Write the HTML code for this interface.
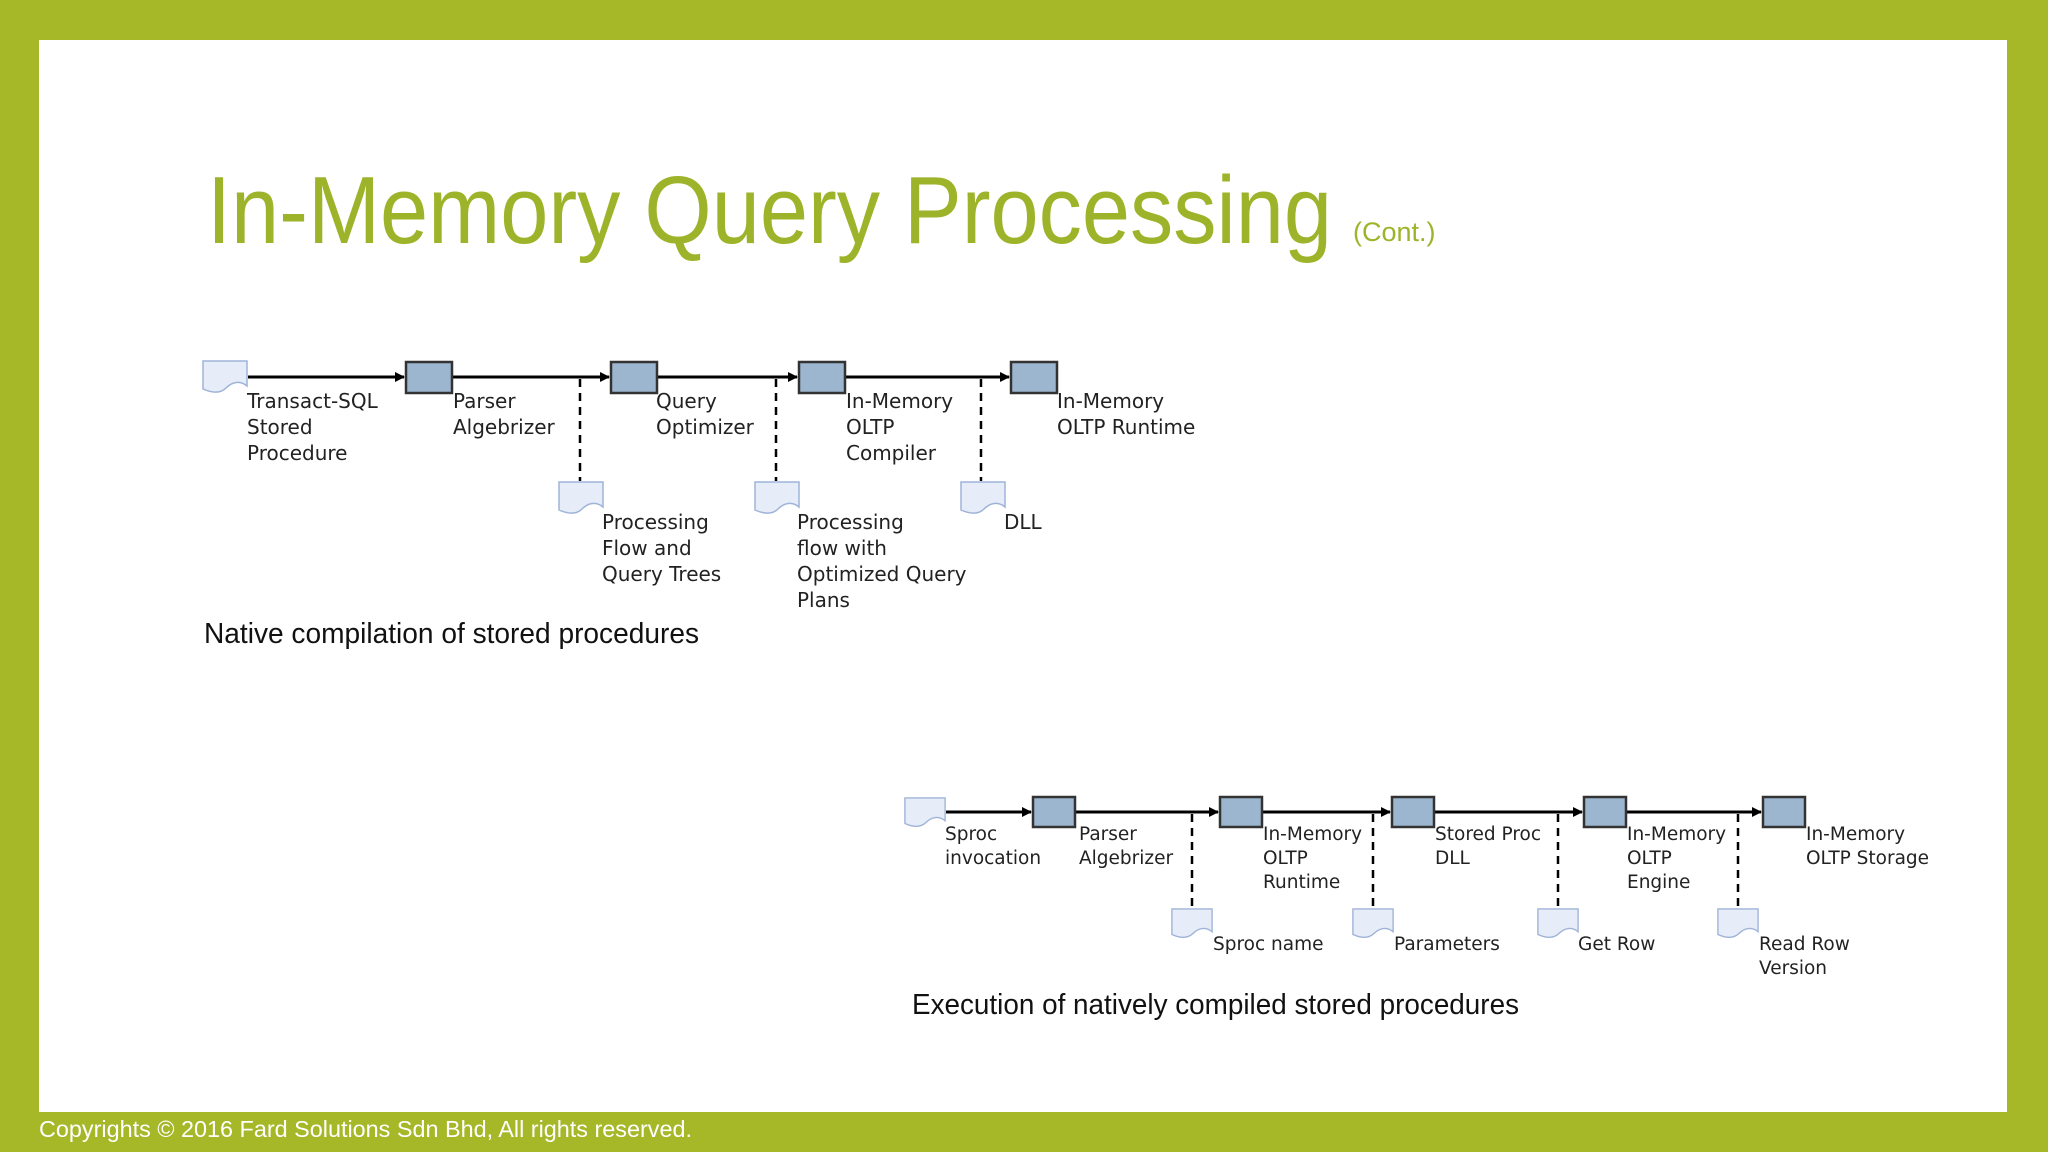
<!DOCTYPE html>
<html><head><meta charset="utf-8"><style>
html,body{margin:0;padding:0;width:2048px;height:1152px;overflow:hidden;background:#a6b728}
svg{display:block}
.l{font-family:"DejaVu Sans","Liberation Sans",sans-serif;font-size:20px;fill:#222}
.m{font-family:"DejaVu Sans","Liberation Sans",sans-serif;font-size:18.5px;fill:#222}
.c{font-family:"Liberation Sans",sans-serif;font-size:29px;fill:#111}
</style></head><body>
<svg width="2048" height="1152" viewBox="0 0 2048 1152" xmlns="http://www.w3.org/2000/svg">
<defs>
<marker id="a" markerWidth="10" markerHeight="10" refX="9" refY="5" orient="auto" markerUnits="userSpaceOnUse"><path d="M0,0 L10,5 L0,10 z" fill="#000"/></marker>
<symbol id="d" viewBox="0 0 46 34" preserveAspectRatio="none"><path d="M1,1 H45 V26 C38,20 30,22 24,28 C18,34 10,33 1,29 Z" fill="#e6edf8" stroke="#9fb3d8" stroke-width="1.5"/></symbol>
</defs>
<rect x="39" y="40" width="1968" height="1072" fill="#fff"/>
<text x="207" y="243" font-family="Liberation Sans,sans-serif" font-size="96" fill="#9db42a" textLength="1125" lengthAdjust="spacingAndGlyphs">In-Memory Query Processing</text>
<text x="1353" y="241" font-family="Liberation Sans,sans-serif" font-size="27" fill="#9db42a">(Cont.)</text>

<!-- Diagram 1 -->
<g stroke="#000" stroke-width="3" fill="none">
<line x1="248" y1="377" x2="404" y2="377" marker-end="url(#a)"/>
<line x1="452" y1="377" x2="609" y2="377" marker-end="url(#a)"/>
<line x1="657" y1="377" x2="797" y2="377" marker-end="url(#a)"/>
<line x1="845" y1="377" x2="1009" y2="377" marker-end="url(#a)"/>
</g>
<g stroke="#000" stroke-width="2.5" stroke-dasharray="8,6">
<line x1="580" y1="379" x2="580" y2="481"/>
<line x1="776" y1="379" x2="776" y2="481"/>
<line x1="981" y1="379" x2="981" y2="481"/>
</g>
<g fill="#9db6d0" stroke="#333" stroke-width="2.5">
<rect x="406" y="362" width="46" height="31"/>
<rect x="611" y="362" width="46" height="31"/>
<rect x="799" y="362" width="46" height="31"/>
<rect x="1011" y="362" width="46" height="31"/>
</g>
<use href="#d" x="202" y="360" width="46" height="34"/>
<use href="#d" x="558" y="481" width="46" height="34"/>
<use href="#d" x="754" y="481" width="46" height="34"/>
<use href="#d" x="960" y="481" width="46" height="34"/>
<g class="l">
<text x="247" y="408">Transact-SQL</text><text x="247" y="434">Stored</text><text x="247" y="460">Procedure</text>
<text x="453" y="408">Parser</text><text x="453" y="434">Algebrizer</text>
<text x="656" y="408">Query</text><text x="656" y="434">Optimizer</text>
<text x="846" y="408">In-Memory</text><text x="846" y="434">OLTP</text><text x="846" y="460">Compiler</text>
<text x="1057" y="408">In-Memory</text><text x="1057" y="434">OLTP Runtime</text>
<text x="602" y="529">Processing</text><text x="602" y="555">Flow and</text><text x="602" y="581">Query Trees</text>
<text x="797" y="529">Processing</text><text x="797" y="555">flow with</text><text x="797" y="581">Optimized Query</text><text x="797" y="607">Plans</text>
<text x="1004" y="529">DLL</text>
</g>
<text class="c" x="204" y="643" textLength="495" lengthAdjust="spacingAndGlyphs">Native compilation of stored procedures</text>

<!-- Diagram 2 -->
<g stroke="#000" stroke-width="3" fill="none">
<line x1="946" y1="812" x2="1031" y2="812" marker-end="url(#a)"/>
<line x1="1075" y1="812" x2="1218" y2="812" marker-end="url(#a)"/>
<line x1="1262" y1="812" x2="1390" y2="812" marker-end="url(#a)"/>
<line x1="1434" y1="812" x2="1582" y2="812" marker-end="url(#a)"/>
<line x1="1626" y1="812" x2="1761" y2="812" marker-end="url(#a)"/>
</g>
<g stroke="#000" stroke-width="2.5" stroke-dasharray="8,6">
<line x1="1192" y1="814" x2="1192" y2="908"/>
<line x1="1373" y1="814" x2="1373" y2="908"/>
<line x1="1558" y1="814" x2="1558" y2="908"/>
<line x1="1738" y1="814" x2="1738" y2="908"/>
</g>
<g fill="#9db6d0" stroke="#333" stroke-width="2.5">
<rect x="1033" y="797" width="42" height="30"/>
<rect x="1220" y="797" width="42" height="30"/>
<rect x="1392" y="797" width="42" height="30"/>
<rect x="1584" y="797" width="42" height="30"/>
<rect x="1763" y="797" width="42" height="30"/>
</g>
<use href="#d" x="904" y="797" width="42" height="31"/>
<use href="#d" x="1171" y="908" width="42" height="31"/>
<use href="#d" x="1352" y="908" width="42" height="31"/>
<use href="#d" x="1537" y="908" width="42" height="31"/>
<use href="#d" x="1717" y="908" width="42" height="31"/>
<g class="m">
<text x="945" y="840">Sproc</text><text x="945" y="864">invocation</text>
<text x="1079" y="840">Parser</text><text x="1079" y="864">Algebrizer</text>
<text x="1263" y="840">In-Memory</text><text x="1263" y="864">OLTP</text><text x="1263" y="888">Runtime</text>
<text x="1435" y="840">Stored Proc</text><text x="1435" y="864">DLL</text>
<text x="1627" y="840">In-Memory</text><text x="1627" y="864">OLTP</text><text x="1627" y="888">Engine</text>
<text x="1806" y="840">In-Memory</text><text x="1806" y="864">OLTP Storage</text>
<text x="1213" y="950">Sproc name</text>
<text x="1394" y="950">Parameters</text>
<text x="1578" y="950">Get Row</text>
<text x="1759" y="950">Read Row</text><text x="1759" y="974">Version</text>
</g>
<text class="c" x="912" y="1014" textLength="607" lengthAdjust="spacingAndGlyphs">Execution of natively compiled stored procedures</text>

<text x="39" y="1137" font-family="Liberation Sans,sans-serif" font-size="23" fill="#fff" textLength="653" lengthAdjust="spacingAndGlyphs">Copyrights © 2016 Fard Solutions Sdn Bhd, All rights reserved.</text>
</svg>
</body></html>
